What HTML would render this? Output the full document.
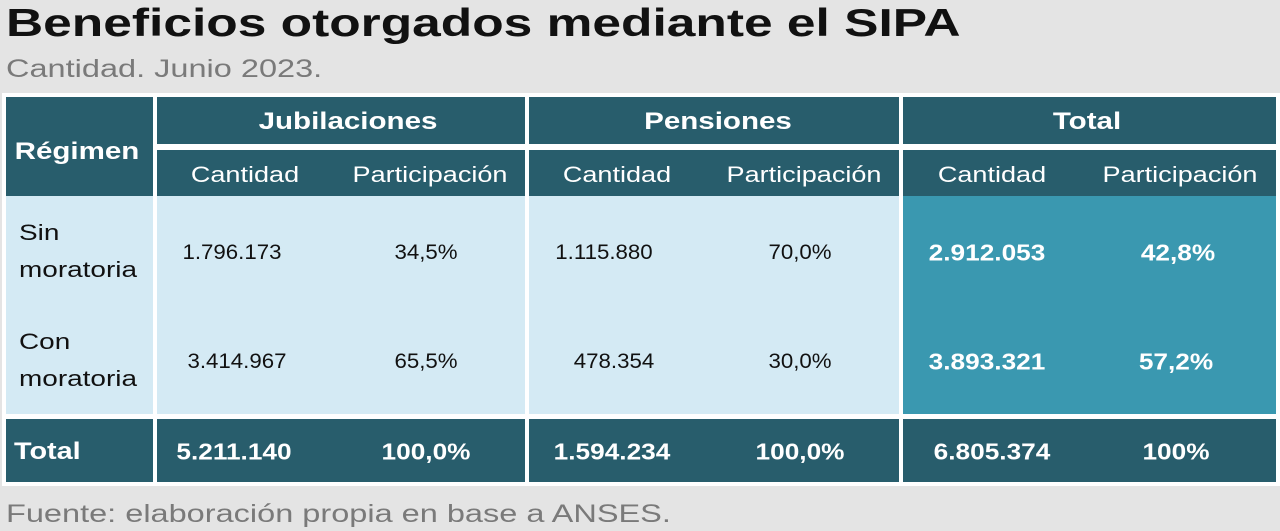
<!DOCTYPE html>
<html><head><meta charset="utf-8">
<style>
body{margin:0;width:1280px;height:531px;background:#e4e4e4;font-family:"Liberation Sans",sans-serif;position:relative;overflow:hidden}
.a{position:absolute;box-sizing:border-box}
.t{position:absolute;white-space:nowrap;transform:translate(-50%,-50%) scaleX(1.06)}
.hd{transform:translate(-50%,-50%) scaleX(1.23)}
.bt{transform:translate(-50%,-50%) scaleX(1.14)}
.sl{transform-origin:0 0;transform:scaleX(1.3);white-space:nowrap}
.rl{transform-origin:0 0;transform:scaleX(1.27);white-space:nowrap}
.d{background:#285d6c;color:#fff}
.l{background:#d4eaf4}
.h{background:#3a98b0}
</style></head><body>
<div class="a sl" style="left:6px;top:-1px;font-size:39px;font-weight:bold;color:#111;line-height:50px;transform:scaleX(1.32)">Beneficios otorgados mediante el SIPA</div>
<div class="a sl" style="left:6px;top:52px;font-size:25px;color:#7a7a7a;line-height:34px">Cantidad. Junio 2023.</div>

<div class="a" style="left:2px;top:93px;width:1278px;height:393px;background:#fff"></div>

<div class="a d" style="left:6px;top:97px;width:147px;height:99px"></div>
<div class="t hd" style="left:77px;top:152px;color:#fff;font-weight:bold;font-size:24px">Régimen</div>

<div class="a d" style="left:157px;top:97px;width:368px;height:47px"></div>
<div class="a d" style="left:529px;top:97px;width:370px;height:47px"></div>
<div class="a d" style="left:903px;top:97px;width:373px;height:47px"></div>
<div class="a d" style="left:157px;top:150px;width:368px;height:46px"></div>
<div class="a d" style="left:529px;top:150px;width:370px;height:46px"></div>
<div class="a d" style="left:903px;top:150px;width:373px;height:46px"></div>

<div class="t hd" style="left:348px;top:122px;color:#fff;font-weight:bold;font-size:24px">Jubilaciones</div>
<div class="t hd" style="left:718px;top:122px;color:#fff;font-weight:bold;font-size:24px">Pensiones</div>
<div class="t hd" style="left:1087px;top:122px;color:#fff;font-weight:bold;font-size:24px">Total</div>

<div class="t hd" style="left:245px;top:175px;color:#fff;font-size:22px">Cantidad</div>
<div class="t hd" style="left:430px;top:175px;color:#fff;font-size:22px">Participación</div>
<div class="t hd" style="left:617px;top:175px;color:#fff;font-size:22px">Cantidad</div>
<div class="t hd" style="left:804px;top:175px;color:#fff;font-size:22px">Participación</div>
<div class="t hd" style="left:992px;top:175px;color:#fff;font-size:22px">Cantidad</div>
<div class="t hd" style="left:1180px;top:175px;color:#fff;font-size:22px">Participación</div>

<div class="a l" style="left:6px;top:196px;width:147px;height:218px"></div>
<div class="a l" style="left:157px;top:196px;width:368px;height:218px"></div>
<div class="a l" style="left:529px;top:196px;width:370px;height:218px"></div>
<div class="a h" style="left:903px;top:196px;width:373px;height:218px"></div>

<div class="a rl" style="left:19px;top:214px;font-size:22px;line-height:37px;color:#111">Sin<br>moratoria</div>
<div class="a rl" style="left:19px;top:323px;font-size:22px;line-height:37px;color:#111">Con<br>moratoria</div>

<div class="t" style="left:232px;top:253px;font-size:21px;color:#111">1.796.173</div>
<div class="t" style="left:426px;top:253px;font-size:21px;color:#111">34,5%</div>
<div class="t" style="left:604px;top:253px;font-size:21px;color:#111">1.115.880</div>
<div class="t" style="left:800px;top:253px;font-size:21px;color:#111">70,0%</div>
<div class="t bt" style="left:987px;top:253px;font-size:23px;font-weight:bold;color:#fff">2.912.053</div>
<div class="t bt" style="left:1178px;top:253px;font-size:23px;font-weight:bold;color:#fff">42,8%</div>

<div class="t" style="left:237px;top:362px;font-size:21px;color:#111">3.414.967</div>
<div class="t" style="left:426px;top:362px;font-size:21px;color:#111">65,5%</div>
<div class="t" style="left:614px;top:362px;font-size:21px;color:#111">478.354</div>
<div class="t" style="left:800px;top:362px;font-size:21px;color:#111">30,0%</div>
<div class="t bt" style="left:987px;top:362px;font-size:23px;font-weight:bold;color:#fff">3.893.321</div>
<div class="t bt" style="left:1176px;top:362px;font-size:23px;font-weight:bold;color:#fff">57,2%</div>

<div class="a d" style="left:6px;top:419px;width:147px;height:63px"></div>
<div class="a d" style="left:157px;top:419px;width:368px;height:63px"></div>
<div class="a d" style="left:529px;top:419px;width:370px;height:63px"></div>
<div class="a d" style="left:903px;top:419px;width:373px;height:63px"></div>

<div class="a rl" style="left:14px;top:436px;font-size:24px;font-weight:bold;color:#fff;line-height:32px;transform:scaleX(1.2)">Total</div>
<div class="t bt" style="left:234px;top:452px;font-size:23px;font-weight:bold;color:#fff">5.211.140</div>
<div class="t bt" style="left:426px;top:452px;font-size:23px;font-weight:bold;color:#fff">100,0%</div>
<div class="t bt" style="left:612px;top:452px;font-size:23px;font-weight:bold;color:#fff">1.594.234</div>
<div class="t bt" style="left:800px;top:452px;font-size:23px;font-weight:bold;color:#fff">100,0%</div>
<div class="t bt" style="left:992px;top:452px;font-size:23px;font-weight:bold;color:#fff">6.805.374</div>
<div class="t bt" style="left:1176px;top:452px;font-size:23px;font-weight:bold;color:#fff">100%</div>

<div class="a sl" style="left:6px;top:497px;font-size:25px;color:#7a7a7a;line-height:34px">Fuente: elaboración propia en base a ANSES.</div>
</body></html>
